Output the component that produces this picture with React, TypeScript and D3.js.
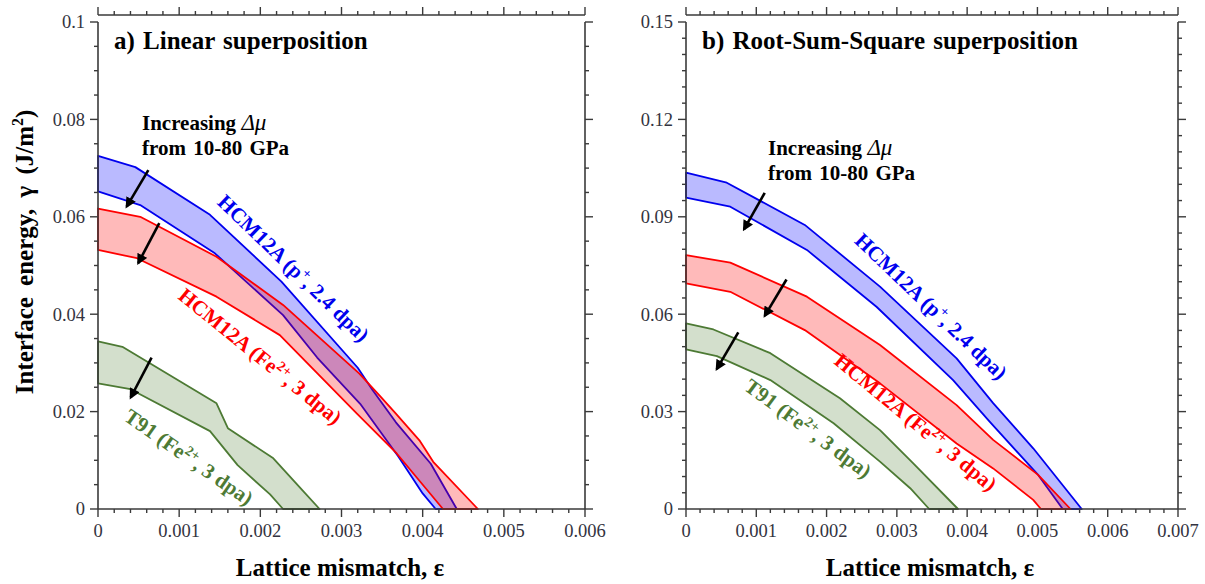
import React from "react";
import * as d3 from "d3";

type Pt = [number, number];

// ---------- Panel (a): Linear superposition ----------
const linBlueUpper: Pt[] = [[0, 0.0725], [0.00046, 0.0702], [0.00138, 0.0604], [0.00226, 0.0467], [0.0032, 0.029], [0.00338, 0.0245], [0.00367, 0.0178], [0.0041, 0.0093], [0.00442, 0]];
const linBlueLower: Pt[] = [[0, 0.0652], [0.00052, 0.0624], [0.00144, 0.0525], [0.00228, 0.0398], [0.0027, 0.0311], [0.00323, 0.0216], [0.0037, 0.0108], [0.004, 0.0032], [0.00416, 0]];
const linRedUpper: Pt[] = [[0, 0.0617], [0.00052, 0.06], [0.00146, 0.0518], [0.00228, 0.0419], [0.00322, 0.0278], [0.00347, 0.0233], [0.00367, 0.0196], [0.00396, 0.0141], [0.00413, 0.0097], [0.00468, 0]];
const linRedLower: Pt[] = [[0, 0.0532], [0.00048, 0.0515], [0.00146, 0.0436], [0.00224, 0.0357], [0.00319, 0.0196], [0.00368, 0.0114], [0.00405, 0.004], [0.00425, 0]];
const linGreenUpper: Pt[] = [[0, 0.0344], [0.0003, 0.0333], [0.00146, 0.0217], [0.0016, 0.0166], [0.00216, 0.0104], [0.0025, 0.0042], [0.00273, 0]];
const linGreenLower: Pt[] = [[0, 0.0258], [0.0004, 0.0246], [0.00138, 0.016], [0.00172, 0.009], [0.00212, 0.003], [0.00228, 0]];

// ---------- Panel (b): Root-Sum-Square superposition ----------
const rssBlueUpper: Pt[] = [[0, 0.1036], [0.00058, 0.1005], [0.00169, 0.0875], [0.00276, 0.0685], [0.00385, 0.0464], [0.00437, 0.0326], [0.00494, 0.0187], [0.00563, 0]];
const rssBlueLower: Pt[] = [[0, 0.0959], [0.00063, 0.0931], [0.00172, 0.0798], [0.00271, 0.0623], [0.0038, 0.0397], [0.00432, 0.0269], [0.00501, 0.0105], [0.00536, 0]];
const rssRedUpper: Pt[] = [[0, 0.0782], [0.00063, 0.0759], [0.00172, 0.0654], [0.00276, 0.0505], [0.00385, 0.032], [0.00437, 0.0213], [0.00501, 0.0105], [0.00547, 0]];
const rssRedLower: Pt[] = [[0, 0.0695], [0.00063, 0.0669], [0.00169, 0.0551], [0.00276, 0.0387], [0.00385, 0.0202], [0.00437, 0.0125], [0.00494, 0.0028], [0.00505, 0]];
const rssGreenUpper: Pt[] = [[0, 0.0572], [0.00039, 0.0553], [0.0012, 0.048], [0.00219, 0.0341], [0.00276, 0.0243], [0.00323, 0.0141], [0.00387, 0]];
const rssGreenLower: Pt[] = [[0, 0.0492], [0.00044, 0.0471], [0.0012, 0.0397], [0.0021, 0.0264], [0.00276, 0.0146], [0.00319, 0.0064], [0.00346, 0]];

// ---------- Ticks ----------
const linXTicks = ["0", "0.001", "0.002", "0.003", "0.004", "0.005", "0.006"];
const linYTicks = ["0", "0.02", "0.04", "0.06", "0.08", "0.1"];
const rssXTicks = ["0", "0.001", "0.002", "0.003", "0.004", "0.005", "0.006", "0.007"];
const rssYTicks = ["0", "0.03", "0.06", "0.09", "0.12", "0.15"];

// arrows: [eps0, gam0, eps1, gam1]
const linArrows: number[][] = [[0.00062, 0.0696, 0.000353, 0.0621], [0.000755, 0.0587, 0.000496, 0.0505], [0.00066, 0.0311, 0.000403, 0.0229]];
const rssArrows: number[][] = [[0.00112, 0.0974, 0.000825, 0.0861], [0.00143, 0.0707, 0.00112, 0.0595], [0.000744, 0.0544, 0.000437, 0.0431]];

const SERIF = "'Liberation Serif', 'Times New Roman', serif";
const AXIS = "#3a3a3a";

const COLORS = {
  blue: { line: "#0000ee", fill: "rgba(0,0,255,0.27)" },
  red: { line: "#ff0000", fill: "rgba(255,0,0,0.27)" },
  green: { line: "#4d7a34", fill: "rgba(70,120,40,0.24)" },
};

type Band = { upper: Pt[]; lower: Pt[]; color: keyof typeof COLORS };
type Label = { eps: number; gam: number; angle: number; color: keyof typeof COLORS; pre: string; sup: string; post: string };

type PanelProps = {
  x0: number; x1: number; xMax: number; yMax: number;
  xTicks: string[]; yTicks: string[]; xMinor: number; yMinor: number;
  bands: Band[]; labels: Label[]; arrows: number[][];
  title: string; annX: number; annY: number;
};

const TOP = 22, BOTTOM = 509, TOPAXIS = 15;

function Panel(p: PanelProps) {
  const x = d3.scaleLinear().domain([0, p.xMax]).range([p.x0, p.x1]);
  const y = d3.scaleLinear().domain([0, p.yMax]).range([BOTTOM, TOP]);
  const line = d3.line<Pt>().x((d) => x(d[0])).y((d) => y(d[1]));
  const xMinorTicks = d3.range(0, Math.round(p.xMax / p.xMinor) + 1).map((i) => i * p.xMinor);
  const yMinorTicks = d3.range(0, Math.round(p.yMax / p.yMinor) + 1).map((i) => i * p.yMinor);
  const xMajorStep = p.xMax / (p.xTicks.length - 1);
  const yMajorStep = p.yMax / (p.yTicks.length - 1);
  const isMajor = (v: number, step: number) => Math.abs(v / step - Math.round(v / step)) < 1e-6;

  return (
    <g>
      {p.bands.map((b, i) => {
        const poly = [...b.upper, ...b.lower.slice().reverse()];
        return (
          <path key={i} d={(line(poly) || "") + "Z"} fill={COLORS[b.color].fill} stroke={COLORS[b.color].line} strokeWidth={1.8} strokeLinejoin="round" />
        );
      })}
      <line x1={p.x0} x2={p.x0} y1={TOP} y2={BOTTOM} stroke={AXIS} strokeWidth={1.6} />
      <line x1={p.x1} x2={p.x1} y1={TOP} y2={BOTTOM} stroke={AXIS} strokeWidth={1.6} />
      <line x1={p.x0} x2={p.x1} y1={BOTTOM} y2={BOTTOM} stroke={AXIS} strokeWidth={1.6} />
      <line x1={p.x0} x2={p.x1} y1={TOPAXIS} y2={TOPAXIS} stroke={AXIS} strokeWidth={1.6} />
      {xMinorTicks.map((v, i) => {
        const maj = isMajor(v, xMajorStep);
        const len = maj ? 8 : 4;
        return (
          <g key={"xt" + i}>
            <line x1={x(v)} x2={x(v)} y1={BOTTOM} y2={BOTTOM + len} stroke={AXIS} strokeWidth={1.4} />
            <line x1={x(v)} x2={x(v)} y1={TOPAXIS} y2={TOPAXIS - len} stroke={AXIS} strokeWidth={1.4} />
          </g>
        );
      })}
      {yMinorTicks.map((v, i) => {
        const maj = isMajor(v, yMajorStep);
        const len = maj ? 8 : 4;
        return (
          <g key={"yt" + i}>
            <line x1={p.x0 - len} x2={p.x0} y1={y(v)} y2={y(v)} stroke={AXIS} strokeWidth={1.4} />
            <line x1={p.x1} x2={p.x1 + len} y1={y(v)} y2={y(v)} stroke={AXIS} strokeWidth={1.4} />
          </g>
        );
      })}
      {p.xTicks.map((t, i) => (
        <text key={"xl" + i} x={x(i * xMajorStep)} y={537} textAnchor="middle" fontFamily={SERIF} fontSize={18.5} fill="#333340">{t}</text>
      ))}
      {p.yTicks.map((t, i) => (
        <text key={"yl" + i} x={p.x0 - 13} y={y(i * yMajorStep)} dy="0.35em" textAnchor="end" fontFamily={SERIF} fontSize={18.5} fill="#333340">{t}</text>
      ))}
      <text x={p.x0 + 16} y={49} fontFamily={SERIF} fontSize={25} fontWeight="bold" fill="#000" wordSpacing={2}>{p.title}</text>
      <text x={p.annX} y={p.annY} fontFamily={SERIF} fontSize={21} fontWeight="bold" fill="#000">
        Increasing <tspan fontStyle="italic" fontWeight="normal" fontSize={23}>Δμ</tspan>
      </text>
      <text x={p.annX} y={p.annY + 25} fontFamily={SERIF} fontSize={21} fontWeight="bold" fill="#000" wordSpacing={2}>from 10-80 GPa</text>
      {p.arrows.map((a, i) => (
        <line key={"ar" + i} x1={x(a[0])} y1={y(a[1])} x2={x(a[2])} y2={y(a[3])} stroke="#000" strokeWidth={2.6} markerEnd="url(#arrowhead)" />
      ))}
      {p.labels.map((l, i) => (
        <text key={"lb" + i} transform={`translate(${x(l.eps)},${y(l.gam)}) rotate(${l.angle})`} textAnchor="middle" dy="0.35em" fontFamily={SERIF} fontSize={21} fontWeight="bold" fill={COLORS[l.color].line}>
          {l.pre}
          <tspan dy={-8} fontSize={14}>{l.sup}</tspan>
          <tspan dy={8}>{l.post}</tspan>
        </text>
      ))}
    </g>
  );
}

export default function App() {
  return (
    <svg width={1205} height={584} style={{ position: "absolute", left: 0, top: 0, background: "#fff" }}>
      <defs>
        <marker id="arrowhead" viewBox="0 0 10 10" refX={8} refY={5} markerWidth={4.4} markerHeight={4.2} orient="auto" markerUnits="strokeWidth">
          <path d="M0,0 L10,5 L0,10 z" fill="#000" />
        </marker>
      </defs>
      <rect x={0} y={0} width={1205} height={584} fill="#fff" />
      <Panel
        x0={98} x1={585} xMax={0.006} yMax={0.1}
        xTicks={linXTicks} yTicks={linYTicks} xMinor={0.0002} yMinor={0.005}
        bands={[
          { upper: linGreenUpper, lower: linGreenLower, color: "green" },
          { upper: linBlueUpper, lower: linBlueLower, color: "blue" },
          { upper: linRedUpper, lower: linRedLower, color: "red" },
        ]}
        labels={[
          { eps: 0.00241, gam: 0.0495, angle: 44, color: "blue", pre: "HCM12A (p", sup: "+", post: ", 2.4 dpa)" },
          { eps: 0.002, gam: 0.0314, angle: 39, color: "red", pre: "HCM12A (Fe", sup: "2+", post: ", 3 dpa)" },
          { eps: 0.00112, gam: 0.0107, angle: 35, color: "green", pre: "T91 (Fe", sup: "2+", post: ", 3 dpa)" },
        ]}
        arrows={linArrows}
        title="a) Linear superposition"
        annX={142} annY={130}
      />
      <Panel
        x0={686} x1={1178} xMax={0.007} yMax={0.15}
        xTicks={rssXTicks} yTicks={rssYTicks} xMinor={0.0002} yMinor={0.005}
        bands={[
          { upper: rssGreenUpper, lower: rssGreenLower, color: "green" },
          { upper: rssBlueUpper, lower: rssBlueLower, color: "blue" },
          { upper: rssRedUpper, lower: rssRedLower, color: "red" },
        ]}
        labels={[
          { eps: 0.00349, gam: 0.0625, angle: 43.7, color: "blue", pre: "HCM12A (p", sup: "+", post: ", 2.4 dpa)" },
          { eps: 0.00327, gam: 0.0268, angle: 39.6, color: "red", pre: "HCM12A (Fe", sup: "2+", post: ", 3 dpa)" },
          { eps: 0.00174, gam: 0.0249, angle: 36.6, color: "green", pre: "T91 (Fe", sup: "2+", post: ", 3 dpa)" },
        ]}
        arrows={rssArrows}
        title="b) Root-Sum-Square superposition"
        annX={768} annY={155}
      />
      <text x={340} y={576} textAnchor="middle" fontFamily={SERIF} fontSize={25} fontWeight="bold">Lattice mismatch, ε</text>
      <text x={930} y={576} textAnchor="middle" fontFamily={SERIF} fontSize={25} fontWeight="bold">Lattice mismatch, ε</text>
      <text transform="translate(33,252) rotate(-90)" textAnchor="middle" fontFamily={SERIF} fontSize={25} fontWeight="bold" wordSpacing={5}>
        Interface energy, γ (J/m<tspan dy={-10} fontSize={16}>2</tspan><tspan dy={10}>)</tspan>
      </text>
    </svg>
  );
}
